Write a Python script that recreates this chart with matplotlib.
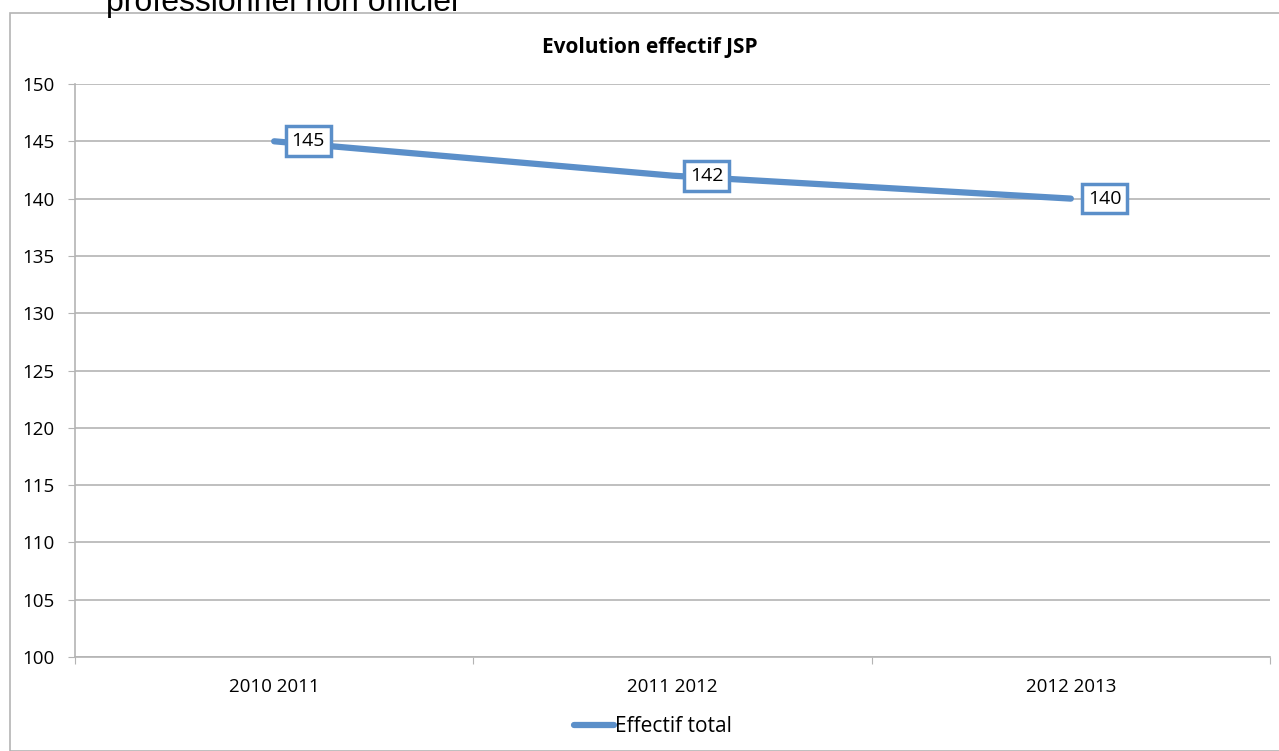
import matplotlib.pyplot as plt
from matplotlib.patches import Rectangle

# === DONNEES ===
saisons = ['2010 2011', '2011 2012', '2012 2013']
effectif_total = [145, 142, 140]
yticks = [100, 105, 110, 115, 120, 125, 130, 135, 140, 145, 150]

BLEU = '#5B8FC9'
GRIS = '#B4B4B4'
plt.rcParams['font.family'] = ['Open Sans', 'DejaVu Sans']


def tracer():
    fig = plt.figure(figsize=(12.79, 7.51), dpi=100)

    # cadre du graphique et texte coupé au-dessus (comme sur l'original)
    fig.patches.append(Rectangle((10 / 1279, 0), 1.0, 1 - 13 / 751, transform=fig.transFigure,
                                 fill=False, edgecolor=GRIS, linewidth=1.2))
    fig.text(106 / 1279, 1 - 11 / 751, 'professionnel non officiel', fontsize=23,
             family=['Liberation Sans'], va='baseline', ha='left')

    ax = fig.add_axes([75 / 1279, 1 - 657 / 751, (1270 - 75) / 1279, (657 - 84) / 751])
    x = list(range(len(saisons)))
    ax.plot(x, effectif_total, color=BLEU, linewidth=4.5, solid_capstyle='round',
            label='Effectif total', zorder=3)

    for xi, v in zip(x, effectif_total):
        ax.annotate(str(v), (xi, v), xytext=(34, 0), textcoords='offset pixels',
                    ha='center', va='center', fontsize=14, zorder=4,
                    bbox=dict(boxstyle='square,pad=0.3', facecolor='white', edgecolor=BLEU, linewidth=2.5))

    ax.set_xlim(-0.5, len(saisons) - 0.5)
    ax.set_ylim(100, 150)
    ax.set_yticks(yticks)
    ax.set_xticks([i + 0.5 for i in range(-1, len(saisons))])
    ax.set_xticklabels([])
    ax.set_xticks(x, minor=True)
    ax.set_xticklabels(saisons, minor=True)
    ax.tick_params(axis='x', which='minor', length=0, pad=15, labelsize=13.5)
    ax.tick_params(axis='x', which='major', length=5, color=GRIS)
    ax.tick_params(axis='y', length=5, color=GRIS, labelsize=13.5, pad=10)
    ax.grid(True, axis='y', color=GRIS, linewidth=1.2)
    for s in ['top', 'right']:
        ax.spines[s].set_visible(False)
    for s in ['left', 'bottom']:
        ax.spines[s].set_color(GRIS)
        ax.spines[s].set_linewidth(1.2)

    fig.text(650 / 1279, 1 - 47 / 751, 'Evolution effectif JSP', ha='center', va='center',
             fontsize=15, fontweight='bold')
    fig.legend(loc='center', bbox_to_anchor=(653 / 1279, 1 - 727 / 751), frameon=False,
               fontsize=15, handlelength=1.9, handletextpad=0.05)

    fig.savefig('out.png', dpi=100)


if __name__ == '__main__':
    tracer()
